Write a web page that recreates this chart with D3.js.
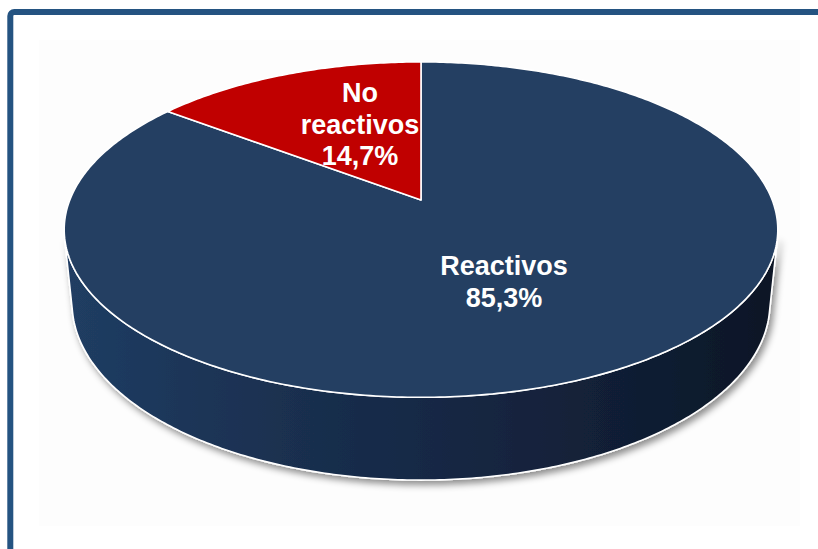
<!DOCTYPE html>
<html>
<head>
<meta charset="utf-8">
<script src="https://cdn.jsdelivr.net/npm/d3@7"></script>
<style>
  html, body { margin: 0; padding: 0; background: #ffffff; }
  svg { display: block; }
</style>
</head>
<body>
<svg id="chart" width="818" height="549"></svg>
<script>
// Pie data
const categories = ["Reactivos", "No reactivos"];
const values = [85.3, 14.7];
const sliceColors = ["#243f62", "#c00000"];
// Label lines per slice (name split over lines, then the percentage)
const labelNames = [["Reactivos"], ["No", "reactivos"]];

const W = 818, H = 549;
const svg = d3.select("#chart");

// Perspective camera for the tilted disc
const cx = 421, cy = 200;
const tilt = Math.asin(0.4626);
const sn = Math.sin(tilt), cs = Math.cos(tilt);
const camDist = 5.02, focal = 1763, thickness = 0.2387;

// Project a point on the disc (angle clockwise from 12 o'clock, radius fraction, height)
function project(theta, r, y) {
  const X = r * Math.sin(theta);
  const Z = -r * Math.cos(theta);
  const xv = X;
  const yv = y * cs - Z * sn;
  const zv = y * sn + Z * cs;
  const depth = camDist - zv;
  return [cx + focal * xv / depth, cy - focal * yv / depth];
}

function ring(a0, a1, y, n) {
  const pts = [];
  for (let i = 0; i <= n; i++) {
    const t = a0 + (a1 - a0) * i / n;
    pts.push(project(t, 1, y));
  }
  return pts;
}

const line = d3.line().curve(d3.curveLinear);

const defs = svg.append("defs");

// Soft shadow under the disc
const shadow = defs.append("filter").attr("id", "shadow")
  .attr("x", "-10%").attr("y", "-10%").attr("width", "120%").attr("height", "130%");
shadow.append("feDropShadow")
  .attr("dx", 3).attr("dy", 4).attr("stdDeviation", 3.5)
  .attr("flood-color", "#000").attr("flood-opacity", 0.45);

// Side wall shading, lighter on the left, darker to the right
const sideGrad = defs.append("linearGradient").attr("id", "sideGrad")
  .attr("gradientUnits", "userSpaceOnUse")
  .attr("x1", 65).attr("y1", 0).attr("x2", 778).attr("y2", 0);
[[0, "#203d63"], [0.3, "#1a3050"], [0.6, "#142540"], [0.85, "#101c30"], [1, "#0d1626"]]
  .forEach(([o, c]) => sideGrad.append("stop").attr("offset", o).attr("stop-color", c));

// Faint inner panel and frame
svg.append("rect").attr("x", 39).attr("y", 40).attr("width", 761).attr("height", 486)
  .attr("fill", "#fdfdfd");
svg.append("rect").attr("x", 10.3).attr("y", 12).attr("width", 840).attr("height", 580)
  .attr("rx", 4).attr("fill", "none").attr("stroke", "#245381").attr("stroke-width", 6);

const pie = d3.pie().sort(null).value(d => d);
const arcs = pie(values);

// Visible outer wall: between the silhouette angles
const silCos = -1 / (camDist * cs);
const s0 = Math.acos(silCos);            // right silhouette
const s1 = 2 * Math.PI - s0;             // left silhouette
const wallOwner = arcs.findIndex(a => a.startAngle <= Math.PI && a.endAngle >= Math.PI);
const topEdge = ring(s0, s1, 0, 240);
const botEdge = ring(s1, s0, -thickness, 240);
svg.append("path")
  .attr("d", line(topEdge.concat(botEdge)) + "Z")
  .attr("fill", wallOwner === 0 ? "url(#sideGrad)" : sliceColors[wallOwner])
  .attr("stroke", "#ffffff").attr("stroke-width", 1.6)
  .attr("stroke-linejoin", "round")
  .attr("filter", "url(#shadow)");

// Top faces
const center = project(0, 0, 0);
svg.append("g").selectAll("path").data(arcs).join("path")
  .attr("d", d => {
    const n = Math.max(8, Math.round((d.endAngle - d.startAngle) * 80));
    return line([center].concat(ring(d.startAngle, d.endAngle, 0, n))) + "Z";
  })
  .attr("fill", (d, i) => sliceColors[i])
  .attr("stroke", "#ffffff").attr("stroke-width", 1.6)
  .attr("stroke-linejoin", "round");

// Labels placed on the top face along each slice's mid-angle
const labelRadius = [0.489, 0.415];
const firstBaseline = [-2, -41];
const lineGap = 31.5;
const fmt = v => d3.format(".1f")(v).replace(".", ",") + "%";

arcs.forEach((d, i) => {
  const mid = (d.startAngle + d.endAngle) / 2;
  const [lx, ly] = project(mid, labelRadius[i], 0);
  const lines = labelNames[i].concat([fmt(values[i])]);
  const t = svg.append("text")
    .attr("x", lx).attr("y", ly + firstBaseline[i])
    .attr("text-anchor", "middle")
    .attr("font-family", "'Liberation Sans', Arial, sans-serif")
    .attr("font-weight", "bold").attr("font-size", 27)
    .attr("fill", "#ffffff");
  lines.forEach((s, k) => {
    t.append("tspan").attr("x", lx).attr("dy", k === 0 ? 0 : lineGap).text(s);
  });
});
</script>
</body>
</html>
